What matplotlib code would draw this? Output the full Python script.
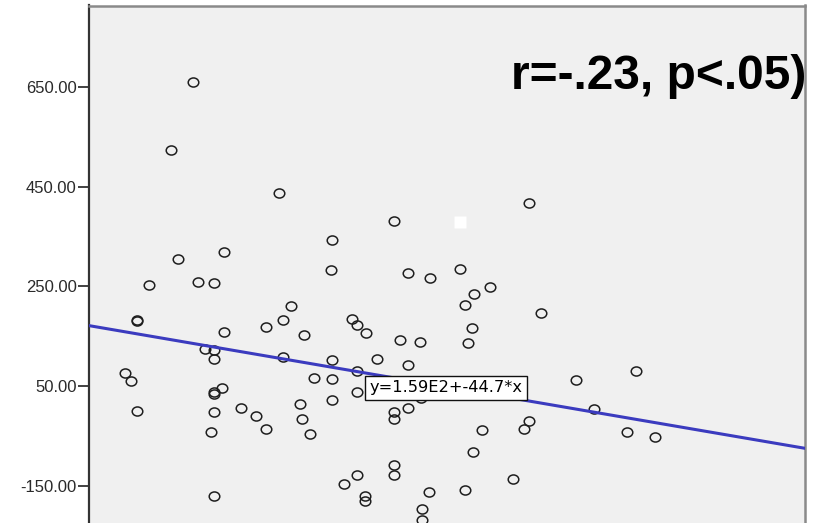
import numpy as np
import matplotlib
matplotlib.use("Agg")
import matplotlib.pyplot as plt
from matplotlib.path import Path

# Scatter values (x = predictor, y = outcome)
x_vals = [0.52, 0.35, 1.18, 1.59, 0.40, 0.76, 0.18, 0.56, 0.68, 1.58,
          2.06, 3.10, 2.17, 2.34, 2.57, 2.80, 2.68, 0.09, 0.09, 0.76,
          0.61, 0.68, 0.68, 1.27, 1.21, 1.08, 1.37, 1.21, 0.00, 0.04,
          0.09, 0.74, 0.68, 0.68, 0.68, 0.66, 0.89, 1.00, 1.08, 1.34,
          1.36, 1.42, 1.45, 0.68, 1.59, 1.59, 1.59, 2.61, 3.19, 2.66,
          2.63, 1.74, 1.78, 1.85, 2.11, 2.26, 1.93, 2.17, 1.78, 1.78,
          2.17, 2.27, 2.06, 2.06, 2.74, 3.10, 3.06, 2.67, 2.06, 2.06,
          1.78, 1.68, 1.84, 1.84, 2.33, 2.61, 2.98, 2.28, 2.28, 3.46,
          3.92, 3.60, 3.85, 4.07]
y_vals = [660, 524, 437, 343, 305, 319, 252, 258, 256, 282,
          381, 417, 276, 266, 285, 248, 235, 183, 181, 158,
          124, 123, 104, 210, 182, 169, 153, 109, 76, 61,
          1, 47, 39, 35, -2, -41, 6, -10, -35, 14,
          -16, -46, 66, -169, 103, 65, 22, 212, 196, 167,
          136, 184, 173, 156, 143, 139, 105, 93, 81, 39,
          7, 26, -1, -16, -37, -20, -36, -82, -108, -127,
          -127, -145, -169, -180, -161, -157, -136, -196, -218, 63,
          80, 4, -41, -51]

# blank marker left in the plot
blank_x = [2.57]
blank_y = [379]

# fit line
intercept = 159.0
slope = -44.7
fit_label = "y=1.59E2+-44.7*x"
stat_label = "r=-.23, p<.05)"

y_ticks = [650, 450, 250, 50, -150]
x_range = (-0.28, 5.22)
y_range = (-224, 813)

fig = plt.figure(figsize=(8.13, 5.23), dpi=100)
ax = fig.add_axes([89 / 813, 0.0, 716 / 813, 1 - 5.5 / 523])
ax.set_facecolor("#f0f0f0")

# slightly wide open circle marker
circ = Path.unit_circle()
oval = Path(circ.vertices * np.array([1.0, 0.86]), circ.codes)

ax.plot(x_vals, y_vals, linestyle="none", marker=oval, markersize=7.6,
        markerfacecolor="none", markeredgecolor="#1e1e1e",
        markeredgewidth=1.1, zorder=2)
ax.plot(blank_x, blank_y, linestyle="none", marker="s", markersize=8.5,
        markerfacecolor="white", markeredgecolor="none", zorder=2)

xs = np.array(x_range)
ax.plot(xs, intercept + slope * xs, color="#3b3bbf", lw=2.2, zorder=3)

ax.text(1.875, 47, fit_label, fontsize=11.7, family="DejaVu Sans",
        va="center", ha="left", zorder=4,
        bbox=dict(boxstyle="square,pad=0.28", fc="white", ec="#111111", lw=1.0))

ax.text(1.002, 0.839, stat_label, transform=ax.transAxes, ha="right",
        va="baseline", fontsize=34.5, fontweight="bold",
        family="Liberation Sans", color="black", zorder=5)

ax.set_xlim(*x_range)
ax.set_ylim(*y_range)
ax.set_yticks(y_ticks)
ax.set_yticklabels([f"{v:.2f}" for v in y_ticks], family="Liberation Sans",
                   fontsize=12, color="#2a2a2a")
ax.set_xticks([])
ax.tick_params(axis="y", length=8, width=1.3, pad=1, color="#333333")

ax.spines["bottom"].set_visible(False)
ax.spines["left"].set_color("#333333")
ax.spines["left"].set_linewidth(1.6)
for side in ["top", "right"]:
    ax.spines[side].set_color("#8a8a8a")
    ax.spines[side].set_linewidth(1.8)

fig.savefig("out.png", dpi=100)
